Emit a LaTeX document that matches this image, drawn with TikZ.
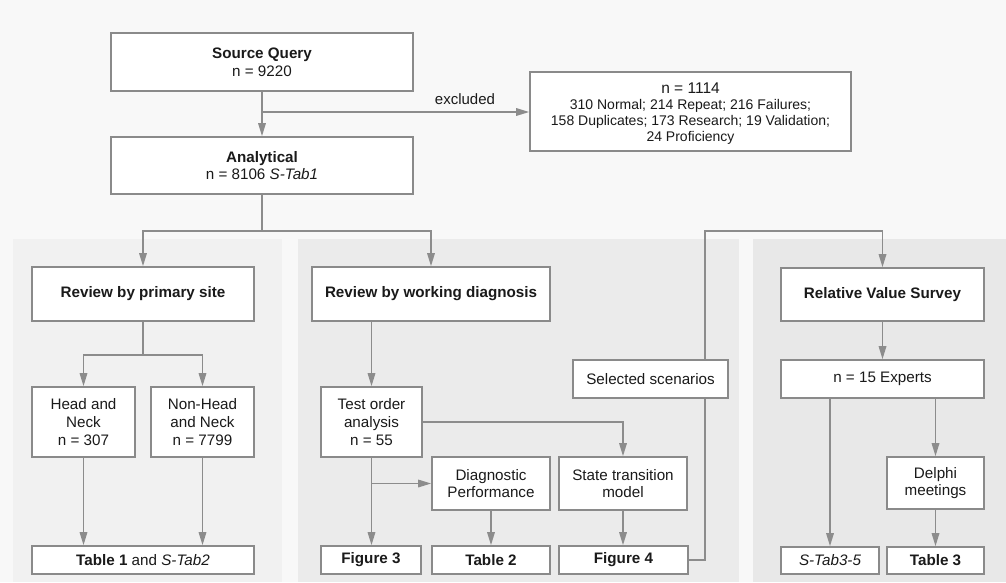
\documentclass[tikz,border=0pt]{standalone}
\usepackage{fontspec}
\setmainfont{Liberation Sans}
\usetikzlibrary{arrows.meta}
\definecolor{bgc}{HTML}{F8F8F8}
\definecolor{panelA}{HTML}{F1F1F1}
\definecolor{panelB}{HTML}{EBEBEB}
\definecolor{panelC}{HTML}{E8E8E8}
\definecolor{linec}{HTML}{8C8C8C}
\definecolor{borderc}{HTML}{8A8A8A}
\definecolor{txtc}{HTML}{1A1A1A}
\begin{document}
\begin{tikzpicture}[x=1pt,y=-1pt,
  box/.style={draw=borderc, line width=1.6pt, fill=white, align=center, inner sep=0pt,
    text=txtc, font=\fontsize{15.2}{17.6}\selectfont},
  conn/.style={draw=linec, line width=1.6pt},
  arr/.style={conn, -{Triangle[length=13pt,width=7.5pt]}}
]
\useasboundingbox (0,0) rectangle (1006,582);
\fill[bgc] (0,0) rectangle (1006,582);
% panels
\fill[panelA] (13,239) rectangle (282,582);
\fill[panelB] (298,239) rectangle (739,582);
\fill[panelC] (753,239) rectangle (1006,582);

% nodes
\node[box, minimum width=302pt, minimum height=58pt] (src) at (262,62) {\textbf{Source Query}\\n = 9220};
\node[box, minimum width=302pt, minimum height=57pt] (ana) at (262,165.5) {\textbf{Analytical}\\n = 8106 \textit{S-Tab1}};
\node[box, minimum width=321pt, minimum height=79pt, font=\fontsize{14}{16}\selectfont, text depth=0pt] (exc) at (690.5,111.5) {};
\node[align=center, inner sep=0pt, text=txtc, font=\fontsize{14}{16}\selectfont] (exctxt) at (690.5,113.5)
  {{\fontsize{15.5}{16}\selectfont n = 1114}\\310 Normal; 214 Repeat; 216 Failures;\\158 Duplicates; 173 Research; 19 Validation;\\24 Proficiency};

\node[box, minimum width=222pt, minimum height=54pt] (rps) at (143,294) {\textbf{Review by primary site}};
\node[box, minimum width=103pt, minimum height=70pt] (hn) at (83.5,422) {Head and\\Neck\\n = 307};
\node[box, minimum width=103pt, minimum height=70pt] (nhn) at (202.5,422) {Non-Head\\and Neck\\n = 7799};
\node[box, minimum width=222pt, minimum height=28pt] (t1) at (143,560) {\textbf{Table 1} and \textit{S-Tab2}};

\node[box, minimum width=238pt, minimum height=54pt] (rwd) at (431,294) {\textbf{Review by working diagnosis}};
\node[box, minimum width=101pt, minimum height=70pt] (toa) at (371.5,422) {Test order\\analysis\\n = 55};
\node[box, minimum width=118pt, minimum height=53pt] (dp) at (491,483.5) {Diagnostic\\Performance};
\node[box, minimum width=128pt, minimum height=53pt] (stm) at (623,483.5) {State transition\\model};
\node[box, minimum width=100pt, minimum height=28pt] (fig3) at (371,560) {\textbf{Figure 3}};
\node[box, minimum width=118pt, minimum height=28pt] (t2) at (491,560) {\textbf{Table 2}};
\node[box, minimum width=129pt, minimum height=28pt] (fig4) at (623.5,560) {\textbf{Figure 4}};
\node[box, minimum width=155pt, minimum height=38pt] (sel) at (650.5,379) {Selected scenarios};

\node[box, minimum width=203pt, minimum height=53pt] (rvs) at (882.5,294.5) {\textbf{Relative Value Survey}};
\node[box, minimum width=203pt, minimum height=38pt] (exp) at (882.5,379) {n = 15 Experts};
\node[box, minimum width=97pt, minimum height=52pt] (del) at (935.5,483) {Delphi\\meetings};
\node[box, minimum width=98pt, minimum height=27pt] (st35) at (830,560.5) {\textit{S-Tab3-5}};
\node[box, minimum width=97pt, minimum height=27pt] (t3) at (935.5,560.5) {\textbf{Table 3}};

% helper coordinates
\coordinate (exbr) at (262,112);
\coordinate (spl1) at (262,231);
\coordinate (spl2) at (143,355);
\coordinate (brdp) at (371.5,483.5);
\coordinate (vx) at (705,231);

% connectors
\draw[arr] (src.south) -- (ana.north);
\draw[arr] (exbr) -- (exc.west |- exbr);
\node[text=txtc, font=\fontsize{15}{17}\selectfont] (exl) at (465,99) {excluded};

\draw[conn] (ana.south) -- (spl1);
\draw[arr] (spl1) -| (rps.north);
\draw[arr] (spl1) -| (rwd.north);

\draw[conn] (rps.south) -- (spl2);
\draw[arr] (spl2) -| (hn.north);
\draw[arr] (spl2) -| (nhn.north);
\draw[arr] (hn.south) -- (hn.south |- t1.north);
\draw[arr] (nhn.south) -- (nhn.south |- t1.north);

\draw[arr] (rwd.south -| toa.north) -- (toa.north);
\draw[arr] (toa.east) -| (stm.north);
\draw[arr] (toa.south) -- (fig3.north -| toa.south);
\draw[arr] (brdp) -- (dp.west);
\draw[arr] (dp.south) -- (t2.north);
\draw[arr] (stm.south) -- (stm.south |- fig4.north);

\draw[conn] (fig4.east) -| (vx |- sel.south);
\draw[arr] (vx |- sel.north) -- (vx) -| (rvs.north);

\draw[arr] (rvs.south) -- (exp.north);
\draw[arr] (exp.south -| st35.north) -- (st35.north);
\draw[arr] (exp.south -| del.north) -- (del.north);
\draw[arr] (del.south) -- (t3.north);
\end{tikzpicture}
\end{document}
